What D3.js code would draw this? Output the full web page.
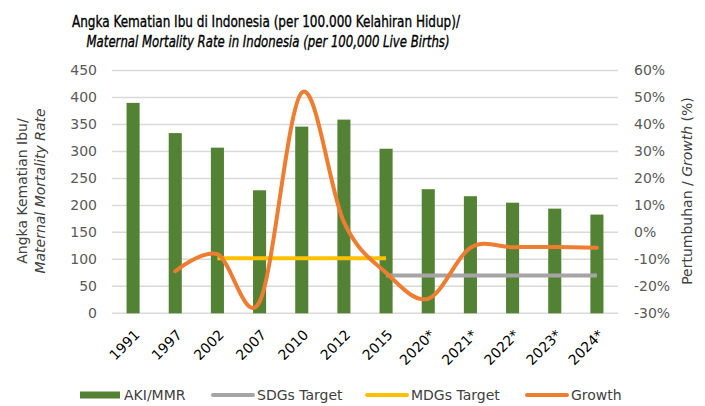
<!DOCTYPE html>
<html><head><meta charset="utf-8">
<script src="https://cdn.jsdelivr.net/npm/d3@7"></script>
<style>
body{margin:0;background:#fff;}
svg{display:block;font-family:"DejaVu Sans",sans-serif;}
</style></head><body>
<svg id="c" width="705" height="406"></svg>
<script>
const categories = ["1991","1997","2002","2007","2010","2012","2015","2020*","2021*","2022*","2023*","2024*"];
const mmr = [390,334,307,228,346,359,305,230,217,205,194,183];
const growth = [null,-14.4,-8.1,-25.7,51.8,3.8,-15.0,-24.6,-5.7,-5.5,-5.4,-5.7];
const mdgTarget = [null,null,102,102,102,102,102,null,null,null,null,null];
const sdgTarget = [null,null,null,null,null,null,70,70,70,70,70,70];
const leftTicks = [0,50,100,150,200,250,300,350,400,450];
const rightTicks = [-30,-20,-10,0,10,20,30,40,50,60];

const svg = d3.select("#c");
const M = {l:112, r:618, t:70.5, b:313.3};
const x = d3.scaleBand().domain(categories).range([M.l, M.r]).paddingInner(0.69).paddingOuter(0.345);
const yL = d3.scaleLinear().domain([0,450]).range([M.b, M.t]);
const yR = d3.scaleLinear().domain([-30,60]).range([M.b, M.t]);
const cx = c => x(c) + x.bandwidth()/2;

// gridlines
svg.append("g").selectAll("line").data(leftTicks).join("line")
  .attr("x1", M.l).attr("x2", M.r)
  .attr("y1", d=>yL(d)).attr("y2", d=>yL(d))
  .attr("stroke","#d9d9d9").attr("stroke-width",1.5);

// bars
svg.append("g").selectAll("rect").data(mmr).join("rect")
  .attr("x",(d,i)=>x(categories[i])).attr("width",x.bandwidth())
  .attr("y",d=>yL(d)).attr("height",d=>yL(0)-yL(d))
  .attr("fill","#548235");

const lineL = d3.line().defined(d=>d.v!=null).x(d=>cx(d.c)).y(d=>yL(d.v));
const toPts = arr => arr.map((v,i)=>({c:categories[i],v}));
svg.append("path").datum(toPts(sdgTarget)).attr("d",lineL)
  .attr("fill","none").attr("stroke","#a5a5a5").attr("stroke-width",4);
svg.append("path").datum(toPts(mdgTarget)).attr("d",lineL)
  .attr("fill","none").attr("stroke","#ffc000").attr("stroke-width",4);
const lineR = d3.line().defined(d=>d.v!=null).x(d=>cx(d.c)).y(d=>yR(d.v)).curve(d3.curveCardinal.tension(0));
svg.append("path").datum(toPts(growth)).attr("d",lineR)
  .attr("fill","none").attr("stroke","#ed7d31").attr("stroke-width",4).attr("stroke-linecap","round");

// axes labels
const tickFont = 14;
svg.append("g").selectAll("text").data(leftTicks).join("text")
  .attr("x",97).attr("y",d=>yL(d)).attr("dy","0.35em").attr("text-anchor","end")
  .attr("font-size",tickFont).attr("fill","#595959").text(d=>d);
svg.append("g").selectAll("text").data(rightTicks).join("text")
  .attr("x",634).attr("y",d=>yR(d)).attr("dy","0.35em").attr("text-anchor","start")
  .attr("font-size",tickFont).attr("fill","#595959").text(d=>d+"%");

// x labels
svg.append("g").selectAll("text").data(categories).join("text")
  .attr("transform",c=>`translate(${cx(c)+4},${M.b+19}) rotate(-45)`)
  .attr("text-anchor","end").attr("dy","0.35em")
  .attr("font-size",14).attr("fill","#000").text(c=>c);

// axis titles
const lt = svg.append("text").attr("transform","translate(0,191) rotate(-90)")
  .attr("text-anchor","middle").attr("font-size",14).attr("fill","#404040");
lt.append("tspan").attr("x",0).attr("y",27).text("Angka Kematian Ibu/");
lt.append("tspan").attr("x",0).attr("y",45).attr("font-style","italic").text("Maternal Mortality Rate");
const rt = svg.append("text").attr("transform","translate(692,191) rotate(-90)")
  .attr("text-anchor","middle").attr("font-size",14).attr("fill","#404040");
rt.append("tspan").text("Pertumbuhan / ");
rt.append("tspan").attr("font-style","italic").text("Growth");
rt.append("tspan").text(" (%)");

// title
svg.append("text").attr("x",266).attr("y",27).attr("text-anchor","middle")
  .attr("font-family","'DejaVu Sans Condensed','DejaVu Sans',sans-serif")
  .attr("font-size",16).attr("fill","#000").attr("stroke","#000").attr("stroke-width",0.35)
  .attr("textLength",388).attr("lengthAdjust","spacingAndGlyphs")
  .text("Angka Kematian Ibu di Indonesia (per 100.000 Kelahiran Hidup)/");
svg.append("text").attr("x",268).attr("y",47).attr("text-anchor","middle")
  .attr("font-family","'DejaVu Sans Condensed','DejaVu Sans',sans-serif")
  .attr("font-size",16).attr("font-style","italic").attr("fill","#000").attr("stroke","#000").attr("stroke-width",0.35)
  .attr("textLength",363).attr("lengthAdjust","spacingAndGlyphs")
  .text("Maternal Mortality Rate in Indonesia (per 100,000 Live Births)");

// legend
const legend = [
  {label:"AKI/MMR", type:"rect", color:"#548235", x:80},
  {label:"SDGs Target", type:"line", color:"#a5a5a5", x:213},
  {label:"MDGs Target", type:"line", color:"#ffc000", x:367},
  {label:"Growth", type:"line", color:"#ed7d31", x:527}
];
const lg = svg.append("g").selectAll("g").data(legend).join("g")
  .attr("transform",d=>`translate(${d.x},395)`);
lg.filter(d=>d.type==="rect").append("rect").attr("x",0).attr("y",-3.5).attr("width",40).attr("height",7).attr("fill",d=>d.color);
lg.filter(d=>d.type==="line").append("line").attr("x1",0).attr("x2",40).attr("y1",0).attr("y2",0)
  .attr("stroke",d=>d.color).attr("stroke-width",4).attr("stroke-linecap","round");
lg.append("text").attr("x",44).attr("y",0).attr("dy","0.35em").attr("font-size",14).attr("fill","#404040").text(d=>d.label);
</script></body></html>
